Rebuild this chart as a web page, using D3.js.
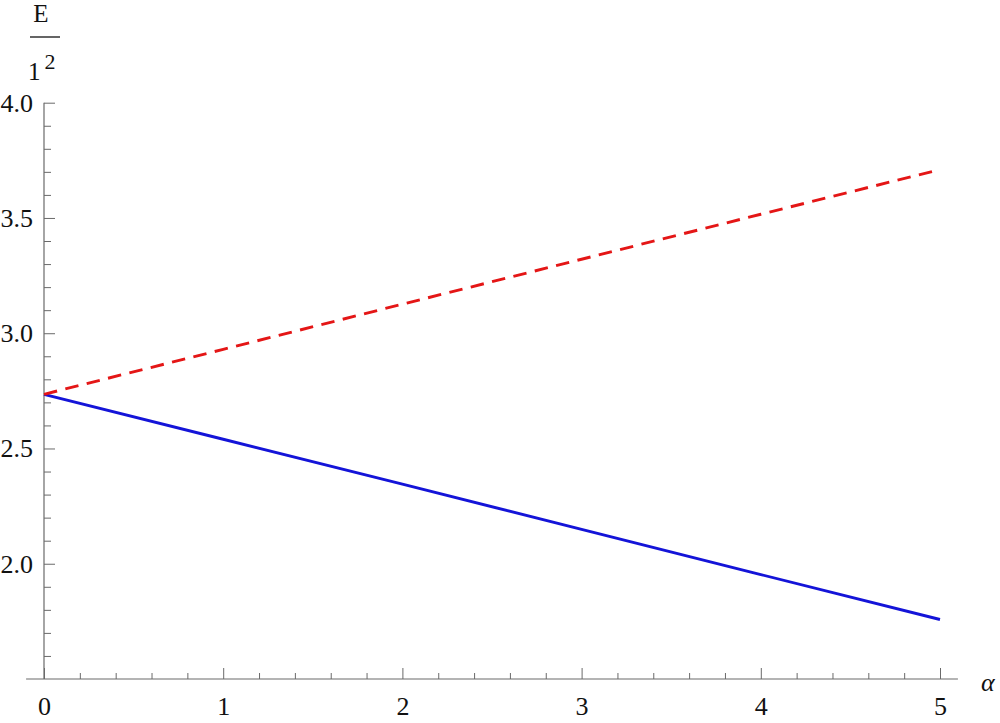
<!DOCTYPE html>
<html><head><meta charset="utf-8">
<script src="https://cdn.jsdelivr.net/npm/d3@7"></script>
<style>
html,body{margin:0;padding:0;background:#fff;}
svg text{font-family:"Liberation Serif",Tinos,"Times New Roman",Times,"Noto Serif","DejaVu Serif",FreeSerif,serif;}
</style></head>
<body>
<svg id="c" width="1000" height="723"></svg>
<script>
const alphaValues = [0, 1, 2, 3, 4, 5];
const redSeries  = [2.735, 2.93, 3.126, 3.321, 3.516, 3.71];
const blueSeries = [2.735, 2.54, 2.345, 2.149, 1.953, 1.758];
const xMajorTicks = [0, 1, 2, 3, 4, 5];
const xMinorTicks = [0.2,0.4,0.6,0.8,1.2,1.4,1.6,1.8,2.2,2.4,2.6,2.8,3.2,3.4,3.6,3.8,4.2,4.4,4.6,4.8];
const yMajorTicks = [2.0, 2.5, 3.0, 3.5, 4.0];
const yMinorTicks = [1.6,1.7,1.8,1.9,2.1,2.2,2.3,2.4,2.6,2.7,2.8,2.9,3.1,3.2,3.3,3.4,3.6,3.7,3.8,3.9];

const FONT = '"Liberation Serif",Tinos,"Times New Roman",Times,"Noto Serif","DejaVu Serif",FreeSerif,serif';
const svg = d3.select("#c");
const x = d3.scaleLinear().domain([0, 5]).range([44, 940]);
const y = d3.scaleLinear().domain([1.5, 4.0]).range([679, 102.7]);
const axisColor = "#6a6a6a";

svg.append("line").attr("x1", x(-0.1)).attr("x2", x(5.1))
  .attr("y1", y(1.5)).attr("y2", y(1.5)).attr("stroke", axisColor).attr("stroke-width", 1.2);
svg.append("line").attr("x1", x(0)).attr("x2", x(0))
  .attr("y1", y(4.0)).attr("y2", y(1.5)).attr("stroke", axisColor).attr("stroke-width", 1.2);

function styleAxis(g){
  g.attr("font-family", null).attr("font-size", null);
  g.select(".domain").remove();
  g.selectAll(".tick line").attr("stroke", axisColor).attr("stroke-width", 1);
  g.selectAll(".tick text").attr("fill", "#111").style("font-size", "26px")
    .style("font-family", FONT);
}

const gx = svg.append("g").attr("transform", `translate(0,${y(1.5)})`)
  .call(d3.axisBottom(x).tickValues(xMajorTicks).tickFormat(d3.format("d")).tickSizeInner(-11).tickSizeOuter(0).tickPadding(0));
styleAxis(gx);
gx.selectAll(".tick text").attr("y", 36).attr("dy", 0);
const gxm = svg.append("g").attr("transform", `translate(0,${y(1.5)})`)
  .call(d3.axisBottom(x).tickValues(xMinorTicks).tickFormat("").tickSizeInner(-6).tickSizeOuter(0));
styleAxis(gxm);

const gy = svg.append("g").attr("transform", `translate(${x(0)},0)`)
  .call(d3.axisLeft(y).tickValues(yMajorTicks).tickFormat(d3.format(".1f")).tickSizeInner(-11).tickSizeOuter(0).tickPadding(0));
styleAxis(gy);
gy.selectAll(".tick text").attr("x", -11).attr("dy", "0.32em");
const gym = svg.append("g").attr("transform", `translate(${x(0)},0)`)
  .call(d3.axisLeft(y).tickValues(yMinorTicks).tickFormat("").tickSizeInner(-7).tickSizeOuter(0));
styleAxis(gym);

const line = d3.line().x((d, i) => x(alphaValues[i])).y(d => y(d));
svg.append("path").datum(blueSeries).attr("d", line)
  .attr("fill", "none").attr("stroke", "#1414d8").attr("stroke-width", 2.9);
svg.append("path").datum(redSeries).attr("d", line)
  .attr("fill", "none").attr("stroke", "#e41616").attr("stroke-width", 2.9)
  .attr("stroke-dasharray", "13.5,8.5");

svg.append("text").attr("x", 41).attr("y", 22).attr("text-anchor", "middle")
  .style("font-family", FONT).style("font-size", "25px").attr("fill", "#111").text("E");
svg.append("line").attr("x1", 30).attr("x2", 60).attr("y1", 37).attr("y2", 37)
  .attr("stroke", "#111").attr("stroke-width", 1.3);
const den = svg.append("text").attr("x", 28).attr("y", 80)
  .style("font-family", FONT).style("font-size", "25px").attr("fill", "#111");
den.append("tspan").text("1");
den.append("tspan").attr("dx", 4).attr("dy", -11).style("font-size", "22px").text("2");
svg.append("text").attr("x", 981).attr("y", 691).style("font-family", FONT).style("font-size", "26px")
  .style("font-style", "italic").attr("fill", "#111").text("α");
</script>
</body></html>
